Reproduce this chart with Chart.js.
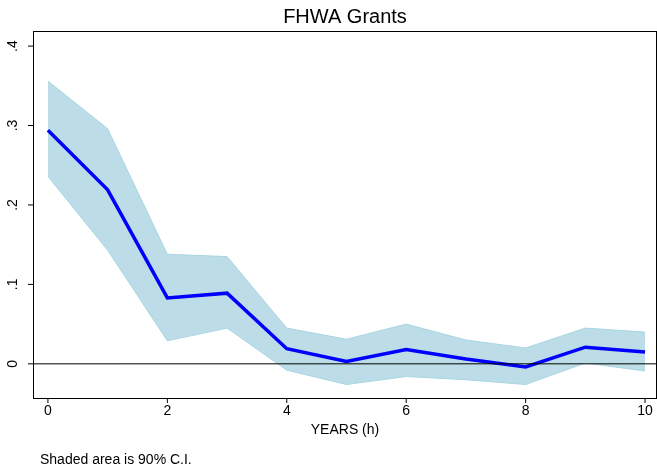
<!DOCTYPE html>
<html>
<head>
<meta charset="utf-8">
<script src="https://cdn.jsdelivr.net/npm/chart.js@4"></script>
<style>
  html, body { margin: 0; padding: 0; background: #fff; }
  #wrap { width: 657px; height: 472px; }
</style>
</head>
<body>
<div id="wrap"><canvas id="c"></canvas></div>
<script>
const years = [0, 1, 2, 3, 4, 5, 6, 7, 8, 9, 10];
const irf   = [0.294, 0.219, 0.083, 0.089, 0.019, 0.003, 0.018, 0.006, -0.004, 0.021, 0.015];
const upper = [0.356, 0.296, 0.138, 0.135, 0.045, 0.031, 0.050, 0.030, 0.020, 0.045, 0.040];
const lower = [0.236, 0.143, 0.029, 0.045, -0.008, -0.026, -0.016, -0.020, -0.026, 0.001, -0.009];
const xTicks = [0, 2, 4, 6, 8, 10];
const yTicks = [0, 0.1, 0.2, 0.3, 0.4];
const yTickLabels = ['0', '.1', '.2', '.3', '.4'];

const pts = (arr) => arr.map((v, i) => ({ x: years[i], y: v }));

// frame, ticks, titles drawn by hand (Stata look)
const decor = {
  id: 'decor',
  afterDraw(chart) {
    const { ctx, chartArea: a, scales: { x, y } } = chart;
    ctx.save();
    ctx.strokeStyle = '#000';
    ctx.lineWidth = 1;
    // zero line
    const y0 = y.getPixelForValue(0);
    ctx.beginPath(); ctx.moveTo(a.left, y0); ctx.lineTo(a.right, y0); ctx.stroke();
    // frame
    ctx.strokeRect(a.left + 0.5, a.top + 0.5, a.right - a.left - 1, a.bottom - a.top);
    ctx.fillStyle = '#000';
    ctx.font = '14px "Liberation Sans", Arial, sans-serif';
    // x ticks
    ctx.textAlign = 'center'; ctx.textBaseline = 'top';
    xTicks.forEach((t) => {
      const px = x.getPixelForValue(t);
      ctx.beginPath(); ctx.moveTo(px, a.bottom); ctx.lineTo(px, a.bottom + 5); ctx.stroke();
      ctx.fillText(String(t), px, a.bottom + 6);
    });
    // y ticks (rotated)
    yTicks.forEach((t, i) => {
      const py = y.getPixelForValue(t);
      ctx.beginPath(); ctx.moveTo(a.left, py); ctx.lineTo(a.left - 5, py); ctx.stroke();
      ctx.save();
      ctx.translate(a.left - 20, py);
      ctx.rotate(-Math.PI / 2);
      ctx.textAlign = 'center'; ctx.textBaseline = 'middle';
      ctx.fillText(yTickLabels[i], 0, 0);
      ctx.restore();
    });
    ctx.textAlign = 'center'; ctx.textBaseline = 'top';
    ctx.fillText('YEARS (h)', (a.left + a.right) / 2, a.bottom + 25);
    ctx.font = '20px "Liberation Sans", Arial, sans-serif';
    ctx.fillText('FHWA Grants', (a.left + a.right) / 2, 7);
    ctx.font = '14px "Liberation Sans", Arial, sans-serif';
    ctx.textAlign = 'left';
    ctx.fillText('Shaded area is 90% C.I.', 40, 453);
    ctx.restore();
  },
};

new Chart(document.getElementById('c'), {
  type: 'line',
  data: {
    datasets: [
      { data: pts(upper), borderColor: '#a9d5e2', borderWidth: 1, backgroundColor: '#bcdde7',
        fill: '+1', pointRadius: 0, tension: 0, order: 3 },
      { data: pts(lower), borderColor: '#a9d5e2', borderWidth: 1, fill: false,
        pointRadius: 0, tension: 0, order: 2 },
      { data: pts(irf), borderColor: '#0000ff', borderWidth: 3.5, fill: false,
        pointRadius: 0, tension: 0, order: 1 },
    ],
  },
  options: {
    responsive: true,
    maintainAspectRatio: false,
    animation: false,
    layout: { padding: { left: 33, right: 0, top: 31, bottom: 74 } },
    plugins: { legend: { display: false }, tooltip: { enabled: false } },
    scales: {
      x: { type: 'linear', min: -0.25, max: 10.2, display: false },
      y: { min: -0.043, max: 0.419, display: false },
    },
  },
  plugins: [decor],
});
</script>
</body>
</html>
